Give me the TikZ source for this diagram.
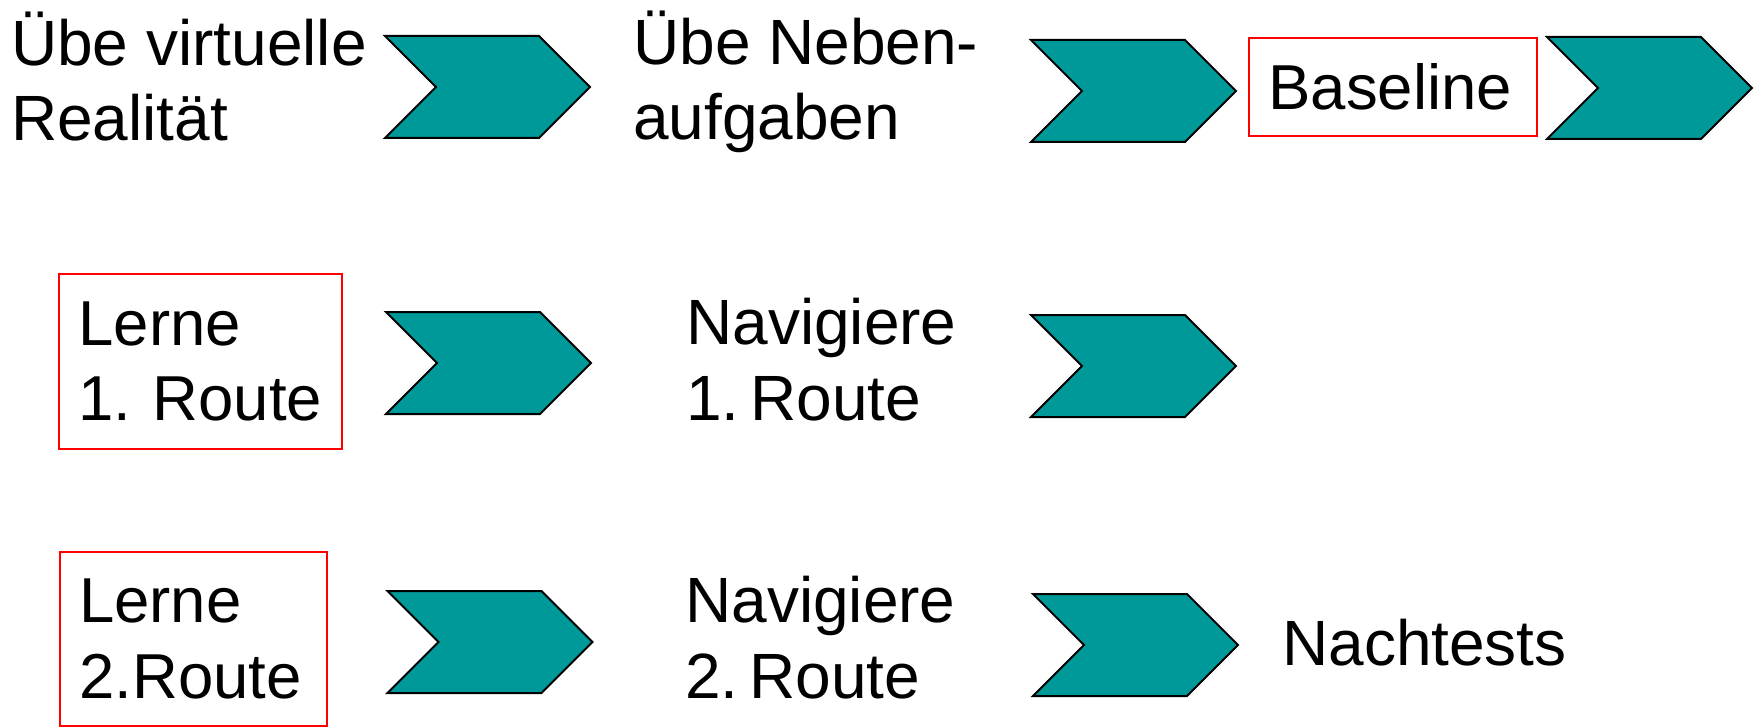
\documentclass[tikz,border=0pt]{standalone}
\usepackage{fontspec}
\setmainfont{Liberation Sans}
\definecolor{teal1}{RGB}{0,153,153}
\begin{document}
\begin{tikzpicture}[x=1pt,y=-1pt,
  chevron/.style={fill=teal1,draw=black,line width=2pt,line join=miter},
  chev/.pic={\draw[chevron] (0,0) -- (154,0) -- (205,51) -- (154,102) -- (0,102) -- (51,51) -- cycle;},
  txt/.style={inner sep=0pt,anchor=base west,align=left,font=\fontsize{64}{75.5}\selectfont},
  redbox/.style={draw=red,line width=2pt,inner xsep=19.5pt,inner ysep=0pt,align=left,
    font=\fontsize{63.5}{75.5}\selectfont\frenchspacing,anchor=center}]
\useasboundingbox (0,0) rectangle (1763,727);
% row 1 (base anchor = baseline of the last line)
\node[txt] (t1) at (11,140.7) {Übe virtuelle\\Realität};
\pic (c1) at (385,36) {chev};
\node[txt] (t2) at (633,140) {Übe Neben-\\aufgaben};
\pic (c2) at (1031,40) {chev};
\node[redbox,minimum width=288pt,minimum height=98pt,text width=249pt] (b0) at (1393,87) {Baseline};
\pic (c3) at (1547,37) {chev};
% row 2
\node[redbox,minimum width=283.5pt,minimum height=175pt,text width=244.5pt] (b1) at (200.7,361.5) {Lerne\\1.\ Route};
\pic (c4) at (386,312) {chev};
\node[txt] (t3) at (686,420) {Navigiere\\1.\,Route};
\pic (c5) at (1031,315) {chev};
% row 3
\node[redbox,minimum width=267pt,minimum height=174pt,text width=228pt] (b2) at (193.2,639) {Lerne\\2.Route};
\pic (c6) at (387.5,591) {chev};
\node[txt] (t4) at (685,698.3) {Navigiere\\2.\,Route};
\pic (c7) at (1033,594) {chev};
\node[txt] (t5) at (1282,665) {Nachtests};
\end{tikzpicture}
\end{document}
